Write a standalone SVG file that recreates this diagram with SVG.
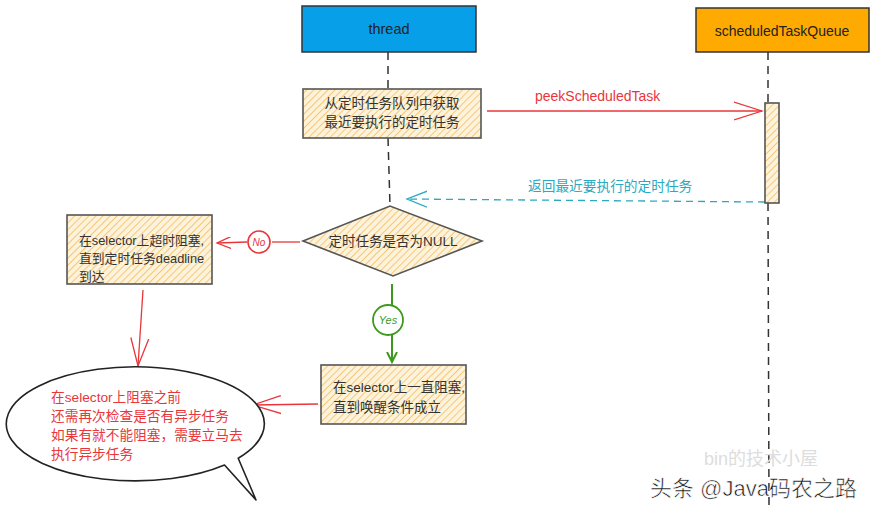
<svg xmlns="http://www.w3.org/2000/svg" width="876" height="508" viewBox="0 0 876 508">
<defs>
<pattern id="hatch" patternUnits="userSpaceOnUse" width="5" height="5" patternTransform="rotate(45)">
<rect width="5" height="5" fill="#fdf3dc"/>
<line x1="0" y1="0" x2="0" y2="5" stroke="#f6c877" stroke-width="2"/>
</pattern>
<marker id="arrRed" markerWidth="16" markerHeight="12" refX="14" refY="6" orient="auto" markerUnits="userSpaceOnUse">
<path d="M0,0 L14,6 L0,12" fill="none" stroke="#e8363b" stroke-width="1.3"/>
</marker>
<marker id="arrRedBig" markerWidth="30" markerHeight="20" refX="28" refY="10" orient="auto" markerUnits="userSpaceOnUse">
<path d="M0,1 L28,10 L0,19" fill="none" stroke="#e8363b" stroke-width="1.3"/>
</marker>
<marker id="arrTeal" markerWidth="22" markerHeight="18" refX="20" refY="9" orient="auto" markerUnits="userSpaceOnUse">
<path d="M0,1 L20,9 L0,17" fill="none" stroke="#2aa9c0" stroke-width="1.3"/>
</marker>
<marker id="arrGreen" markerWidth="12" markerHeight="12" refX="10" refY="6" orient="auto" markerUnits="userSpaceOnUse">
<path d="M0,1 L10,6 L0,11" fill="none" stroke="#3d9a1e" stroke-width="2"/>
</marker>
</defs>
<style>
text{font-family:"Liberation Sans","Noto Sans CJK SC",sans-serif;}
.box{fill:url(#hatch);stroke:#555;stroke-width:1.6;}
.t{font-size:13.5px;fill:#333;}
.s{font-size:12.8px;fill:#333;}
.life{stroke:#333;stroke-width:1.5;stroke-dasharray:8,6;fill:none;}
.red{stroke:#e8363b;stroke-width:1.3;fill:none;}
.rt{font-size:13.7px;fill:#e8363b;}
</style>
<rect width="876" height="508" fill="#fff"/>

<g id="connectors">
<line class="life" x1="388" y1="52" x2="388" y2="89"/>
<line class="life" x1="388" y1="138" x2="390" y2="206"/>
<line class="life" x1="768" y1="52" x2="768" y2="103"/>
<line class="life" x1="768" y1="203" x2="769" y2="505"/>
<line class="red" x1="487" y1="111" x2="762" y2="111" marker-end="url(#arrRedBig)"/>
<text x="535" y="101" font-size="14" fill="#e8363b">peekScheduledTask</text>
<line x1="765" y1="202" x2="407" y2="199" stroke="#2aa9c0" stroke-width="1.3" stroke-dasharray="7,5" marker-end="url(#arrTeal)"/>
<text x="528" y="191" font-size="13.7" fill="#2aa9c0">返回最近要执行的定时任务</text>
<line class="red" x1="300" y1="242" x2="272" y2="242" stroke-width="1.6"/>
<line class="red" x1="247" y1="242" x2="217" y2="243" stroke-width="1.6" marker-end="url(#arrRed)"/>
<circle cx="259" cy="242" r="11" fill="#fff" stroke="#e8363b" stroke-width="1.6"/>
<text x="259" y="246" font-size="10" fill="#e8363b" text-anchor="middle" font-style="italic">No</text>
<line x1="392" y1="284" x2="392" y2="305" stroke="#3d9a1e" stroke-width="2"/>
<line x1="392" y1="335" x2="392" y2="362" stroke="#3d9a1e" stroke-width="2" marker-end="url(#arrGreen)"/>
<circle cx="388" cy="320" r="15" fill="#fff" stroke="#3d9a1e" stroke-width="1.8"/>
<text x="388" y="324" font-size="11" fill="#3d9a1e" text-anchor="middle" font-style="italic">Yes</text>
<line class="red" x1="143" y1="290" x2="138" y2="366" marker-end="url(#arrRedBig)"/>
<line class="red" x1="318" y1="404" x2="253" y2="405" marker-end="url(#arrRedBig)"/>
</g>

<g id="thread">
<rect x="302" y="6" width="174" height="46" fill="#079fe8" stroke="#333" stroke-width="1.5"/>
<text x="389" y="34" font-size="14.5" fill="#222" text-anchor="middle">thread</text>
</g>
<g id="scheduledTaskQueue">
<rect x="696" y="8" width="173" height="44" fill="#ffaa00" stroke="#333" stroke-width="1.5"/>
<text x="782" y="36" font-size="14" fill="#222" text-anchor="middle">scheduledTaskQueue</text>
</g>
<g id="activation">
<rect x="765" y="103" width="14" height="100" class="box"/>
</g>
<g id="fetch">
<rect x="303" y="89" width="178" height="49" class="box"/>
<text class="t" x="392" y="108" text-anchor="middle">从定时任务队列中获取</text>
<text class="t" x="392" y="127" text-anchor="middle">最近要执行的定时任务</text>
</g>
<g id="decision">
<polygon points="303,241 390,206 482,241 393,276" class="box"/>
<text class="t" x="393" y="246" text-anchor="middle">定时任务是否为NULL</text>
</g>
<g id="timeoutBlock">
<rect x="67" y="215" width="145" height="69" class="box"/>
<text class="s" x="79" y="245">在selector上超时阻塞,</text>
<text class="s" x="79" y="263">直到定时任务deadline</text>
<text class="s" x="79" y="281">到达</text>
</g>
<g id="blockForever">
<rect x="321" y="365" width="145" height="59" class="box"/>
<text class="t" x="333" y="392">在selector上一直阻塞,</text>
<text class="t" x="333" y="412">直到唤醒条件成立</text>
</g>
<g id="note">
<path d="M238.2,458.2 A129,57 0 1 0 224.5,465 L256,500 Z" fill="#fff" stroke="#222" stroke-width="1.6" stroke-linejoin="round"/>
<text class="rt" x="51" y="402">在selector上阻塞之前</text>
<text class="rt" x="51" y="421">还需再次检查是否有异步任务</text>
<text class="rt" x="51" y="440">如果有就不能阻塞，需要立马去</text>
<text class="rt" x="51" y="459">执行异步任务</text>
</g>
<g id="watermark">
<text x="704" y="465" font-size="18" fill="#ddd">bin的技术小屋</text>
<text x="650" y="496" font-size="22" fill="#111" stroke="#fff" stroke-width="0.6">头条 @Java码农之路</text>
</g>
</svg>
